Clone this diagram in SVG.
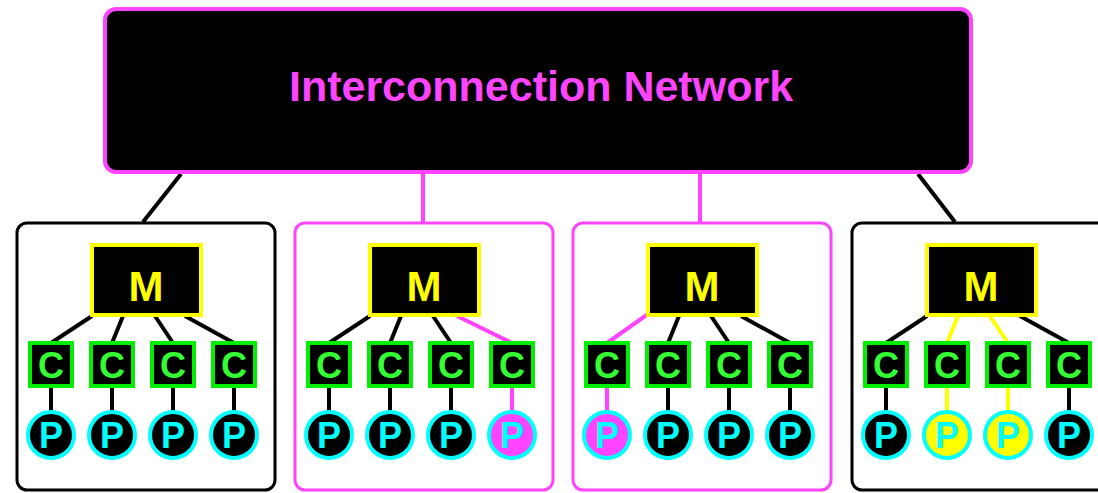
<svg xmlns="http://www.w3.org/2000/svg" width="1098" height="493" viewBox="0 0 1098 493">
<style>
text{font-family:"Liberation Sans",Arial,sans-serif;font-weight:bold;text-anchor:middle}
.net{fill:#000;stroke:#ff44ff;stroke-width:4}
.node{fill:#fff;stroke-width:3}
.blk{stroke:#000}
.mag{stroke:#ff44ff}
.mem{fill:#000;stroke:#ffff00;stroke-width:4}
.cache{fill:#000;stroke:#00ee00;stroke-width:4}
.proc{fill:#000;stroke:#00ffff;stroke-width:4}
.mt{fill:#ffff00;font-size:42px}
.ct{fill:#33ff33;font-size:36px}
.pt{fill:#00ffff;font-size:36px}
.l{stroke:#000;stroke-width:4;fill:none}
.lm{stroke:#ff44ff;stroke-width:4;fill:none}
.ly{stroke:#ffff00;stroke-width:4;fill:none}
</style>
<defs>
<g id="cp">
<rect class="cache" x="-21" y="0" width="42" height="43"/>
<text class="ct" x="0" y="35">C</text>
</g>
</defs>
<g id="connectors">
<line class="l" x1="181" y1="174" x2="143" y2="222"/>
<line class="lm" x1="423" y1="172" x2="423" y2="222"/>
<line class="lm" x1="700" y1="172" x2="700" y2="222"/>
<line class="l" x1="918" y1="174" x2="955" y2="222"/>
</g>
<g id="network">
<rect class="net" x="105" y="9" width="866" height="163" rx="11"/>
<text x="541" y="101" style="fill:#ff44ff;font-size:43px">Interconnection Network</text>
</g>
<g id="node1" transform="translate(17,0)">
<rect class="node blk" x="0" y="223" width="258" height="267" rx="10"/>
<line class="l" x1="75" y1="316" x2="34" y2="343"/>
<line class="l" x1="106" y1="316" x2="95" y2="343"/>
<line class="l" x1="138" y1="316" x2="156" y2="343"/>
<line class="l" x1="168" y1="316" x2="217" y2="343"/>
<line class="l" x1="34" y1="386" x2="34" y2="412"/>
<line class="l" x1="95" y1="386" x2="95" y2="412"/>
<line class="l" x1="156" y1="386" x2="156" y2="412"/>
<line class="l" x1="217" y1="386" x2="217" y2="412"/>
<rect class="mem" x="75" y="245" width="109" height="70"/>
<text class="mt" x="129" y="301">M</text>
<use href="#cp" x="34" y="343"/><use href="#cp" x="95" y="343"/><use href="#cp" x="156" y="343"/><use href="#cp" x="217" y="343"/>
<circle class="proc" cx="34" cy="435" r="23"/><text class="pt" x="34" y="448">P</text>
<circle class="proc" cx="95" cy="435" r="23"/><text class="pt" x="95" y="448">P</text>
<circle class="proc" cx="156" cy="435" r="23"/><text class="pt" x="156" y="448">P</text>
<circle class="proc" cx="217" cy="435" r="23"/><text class="pt" x="217" y="448">P</text>
</g>
<g id="node2" transform="translate(295,0)">
<rect class="node mag" x="0" y="223" width="258" height="267" rx="10"/>
<line class="l" x1="75" y1="316" x2="34" y2="343"/>
<line class="l" x1="106" y1="316" x2="95" y2="343"/>
<line class="l" x1="138" y1="316" x2="156" y2="343"/>
<line class="lm" x1="162" y1="316" x2="217" y2="343"/>
<line class="l" x1="34" y1="386" x2="34" y2="412"/>
<line class="l" x1="95" y1="386" x2="95" y2="412"/>
<line class="l" x1="156" y1="386" x2="156" y2="412"/>
<line class="lm" x1="217" y1="386" x2="217" y2="412"/>
<rect class="mem" x="75" y="245" width="109" height="70"/>
<text class="mt" x="129" y="301">M</text>
<use href="#cp" x="34" y="343"/><use href="#cp" x="95" y="343"/><use href="#cp" x="156" y="343"/><use href="#cp" x="217" y="343"/>
<circle class="proc" cx="34" cy="435" r="23"/><text class="pt" x="34" y="448">P</text>
<circle class="proc" cx="95" cy="435" r="23"/><text class="pt" x="95" y="448">P</text>
<circle class="proc" cx="156" cy="435" r="23"/><text class="pt" x="156" y="448">P</text>
<circle class="proc" cx="217" cy="435" r="23" style="fill:#ff44ff"/><text class="pt" x="217" y="448">P</text>
</g>
<g id="node3" transform="translate(573,0)">
<rect class="node mag" x="0" y="223" width="258" height="267" rx="10"/>
<line class="lm" x1="75" y1="314" x2="34" y2="343"/>
<line class="l" x1="106" y1="316" x2="95" y2="343"/>
<line class="l" x1="138" y1="316" x2="156" y2="343"/>
<line class="l" x1="168" y1="316" x2="217" y2="343"/>
<line class="lm" x1="34" y1="386" x2="34" y2="412"/>
<line class="l" x1="95" y1="386" x2="95" y2="412"/>
<line class="l" x1="156" y1="386" x2="156" y2="412"/>
<line class="l" x1="217" y1="386" x2="217" y2="412"/>
<rect class="mem" x="75" y="245" width="109" height="70"/>
<text class="mt" x="129" y="301">M</text>
<use href="#cp" x="34" y="343"/><use href="#cp" x="95" y="343"/><use href="#cp" x="156" y="343"/><use href="#cp" x="217" y="343"/>
<circle class="proc" cx="34" cy="435" r="23" style="fill:#ff44ff"/><text class="pt" x="34" y="448">P</text>
<circle class="proc" cx="95" cy="435" r="23"/><text class="pt" x="95" y="448">P</text>
<circle class="proc" cx="156" cy="435" r="23"/><text class="pt" x="156" y="448">P</text>
<circle class="proc" cx="217" cy="435" r="23"/><text class="pt" x="217" y="448">P</text>
</g>
<g id="node4" transform="translate(852,0)">
<rect class="node blk" x="0" y="223" width="258" height="267" rx="10"/>
<line class="l" x1="75" y1="316" x2="34" y2="343"/>
<line class="ly" x1="106" y1="316" x2="95" y2="343"/>
<line class="ly" x1="138" y1="316" x2="156" y2="343"/>
<line class="l" x1="168" y1="316" x2="217" y2="343"/>
<line class="l" x1="34" y1="386" x2="34" y2="412"/>
<line class="ly" x1="95" y1="386" x2="95" y2="412"/>
<line class="ly" x1="156" y1="386" x2="156" y2="412"/>
<line class="l" x1="217" y1="386" x2="217" y2="412"/>
<rect class="mem" x="75" y="245" width="109" height="70"/>
<text class="mt" x="129" y="301">M</text>
<use href="#cp" x="34" y="343"/><use href="#cp" x="95" y="343"/><use href="#cp" x="156" y="343"/><use href="#cp" x="217" y="343"/>
<circle class="proc" cx="34" cy="435" r="23"/><text class="pt" x="34" y="448">P</text>
<circle class="proc" cx="95" cy="435" r="23" style="fill:#ffff00"/><text class="pt" x="95" y="448">P</text>
<circle class="proc" cx="156" cy="435" r="23" style="fill:#ffff00"/><text class="pt" x="156" y="448">P</text>
<circle class="proc" cx="217" cy="435" r="23"/><text class="pt" x="217" y="448">P</text>
</g>
</svg>
